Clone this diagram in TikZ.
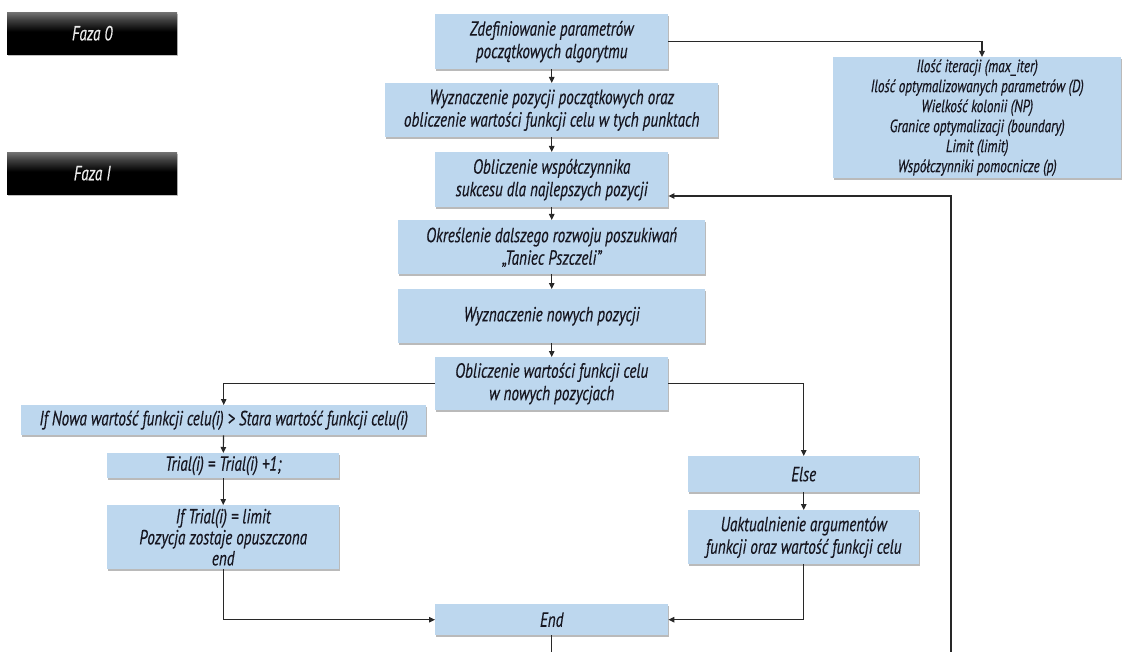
\documentclass[tikz,border=0pt]{standalone}
\usepackage{fontspec}
\setmainfont{PT Sans}[ItalicFeatures={FakeStretch=0.74,FakeBold=0.35},UprightFeatures={FakeStretch=0.74,FakeBold=0.35}]
\usetikzlibrary{arrows.meta,shadows,calc}
\definecolor{boxblue}{RGB}{189,215,238}
\definecolor{txt}{RGB}{22,22,32}
\definecolor{ln}{RGB}{40,40,40}
\pgfdeclareverticalshading{phaseshade}{100bp}{color(0bp)=(black); color(25bp)=(black); color(52bp)=(black); color(66bp)=(black!75); color(75bp)=(black!55); color(100bp)=(black!55)}
\tikzset{
  stepbox/.style={draw=none, fill=boxblue, anchor=north west, inner sep=0pt,
    align=center, text=txt, font=\fontsize{20.5}{22.5}\selectfont\itshape,
    drop shadow={shadow xshift=1.2pt, shadow yshift=-1.6pt, fill=black!45, opacity=0.6}},
  phasebox/.style={draw=none, anchor=north west, inner sep=0pt, align=center,
    text=white!92!black, font=\fontsize{20.5}{22}\selectfont\itshape,
    shading=phaseshade,
    drop shadow={shadow xshift=1.2pt, shadow yshift=-1.6pt, fill=black!40, opacity=0.6}},
  conn/.style={draw=ln, line width=1.1pt, -{Triangle[length=6pt,width=5.5pt]}},
  plain/.style={draw=ln, line width=1.1pt}
}
\begin{document}
\begin{tikzpicture}[x=1pt,y=-1pt]
\useasboundingbox (0,0) rectangle (1123,652);
\node[phasebox, minimum width=170pt, minimum height=42pt] (f0) at (7,12) {Faza 0};
\node[phasebox, minimum width=170pt, minimum height=42pt] (f1) at (7,152) {Faza I};

\node[stepbox, minimum width=233pt, minimum height=55pt] (b1) at (435,14) {Zdefiniowanie parametrów\\początkowych algorytmu};
\node[stepbox, minimum width=333pt, minimum height=54pt] (b2) at (385,83) {Wyznaczenie pozycji początkowych oraz\\obliczenie wartości funkcji celu w tych punktach};
\node[stepbox, minimum width=233pt, minimum height=55pt] (b3) at (435,152) {Obliczenie współczynnika\\sukcesu dla najlepszych pozycji};
\node[stepbox, minimum width=307pt, minimum height=54pt] (b4) at (398,220) {Określenie dalszego rozwoju poszukiwań\\„Taniec Pszczeli”};
\node[stepbox, minimum width=307pt, minimum height=54pt] (b5) at (398,289) {Wyznaczenie nowych pozycji};
\node[stepbox, minimum width=233pt, minimum height=53pt] (b6) at (435,357) {Obliczenie wartości funkcji celu\\w nowych pozycjach};

\node[stepbox, minimum width=288pt, minimum height=121pt, font=\fontsize{17.8}{20}\selectfont\itshape] (par) at (833,57) {Ilość iteracji (max\_iter)\\Ilość optymalizowanych parametrów (D)\\Wielkość kolonii (NP)\\Granice optymalizacji (boundary)\\Limit (limit)\\Współczynniki pomocnicze (p)};

\node[stepbox, minimum width=405pt, minimum height=30pt] (ifn) at (21,405) {If Nowa wartość funkcji celu(i) > Stara wartość funkcji celu(i)};
\node[stepbox, minimum width=232pt, minimum height=25pt] (tr) at (107,453) {Trial(i) = Trial(i) +1;};
\node[stepbox, minimum width=232pt, minimum height=64pt, font=\fontsize{20.5}{21}\selectfont\itshape] (ift) at (107,505) {If Trial(i) = limit\\Pozycja zostaje opuszczona\\end};

\node[stepbox, minimum width=231pt, minimum height=36pt] (els) at (688,456) {Else};
\node[stepbox, minimum width=231pt, minimum height=54pt] (upd) at (688,510) {Uaktualnienie argumentów\\funkcji oraz wartość funkcji celu};

\node[stepbox, minimum width=233pt, minimum height=31pt] (end) at (435,604) {End};

\coordinate (fbbot) at (951,652);
\coordinate (fbtop) at (951,196);
\coordinate (parin) at (982,57);

\draw[conn] (b1) -- (b2);
\draw[conn] (b2) -- (b3);
\draw[conn] (b3) -- (b4);
\draw[conn] (b4) -- (b5);
\draw[conn] (b5) -- (b6);
\draw[conn] (b1.east) -| (parin);
\draw[conn] (b6.west) -| (ifn.north);
\draw[conn] (b6.east) -| (els.north);
\draw[conn] (ifn) -- (tr);
\draw[conn] (tr) -- (ift);
\draw[conn] (els) -- (upd);
\draw[conn] (ift.south) |- (end.west);
\draw[conn] (upd.south) |- (end.east);
\draw[plain] (end.south) -- (end.south |- fbbot);
\draw[conn] (fbbot) -- (fbtop) -- (fbtop -| b3.east);
\end{tikzpicture}
\end{document}
